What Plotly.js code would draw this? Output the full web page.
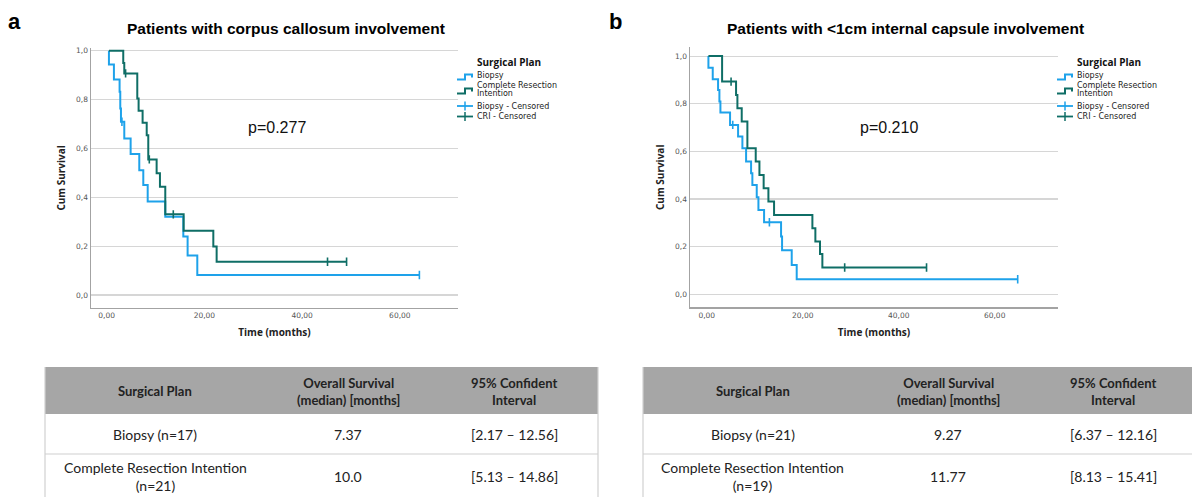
<!DOCTYPE html>
<html>
<head>
<meta charset="utf-8">
<script src="https://cdn.plot.ly/plotly-3.0.1.min.js"></script>
<style>html,body{margin:0;padding:0;background:#fff;}#chart{width:1192px;height:497px;}</style>
</head>
<body>
<div id="chart"></div>
<script>
// ---------- data ----------
// Panel a: corpus callosum involvement
const aBiopsyTime = [0.47, 0.47, 1.49, 2.65, 2.79, 2.93, 3.61, 4.91, 6.68, 7.5, 8.4, 12.0, 15.69, 16.57, 18.55, 64.0];
const aBiopsySurv = [1.0, 0.943, 0.882, 0.832, 0.763, 0.709, 0.641, 0.577, 0.511, 0.45, 0.383, 0.320, 0.239, 0.162, 0.082, 0.082];
const aCriTime = [0.47, 3.40, 3.61, 6.27, 6.54, 7.36, 8.2, 8.52, 10.23, 10.91, 12.0, 15.76, 21.83, 22.51, 49.1];
const aCriSurv = [1.0, 0.950, 0.907, 0.804, 0.754, 0.705, 0.654, 0.555, 0.498, 0.443, 0.330, 0.263, 0.198, 0.136, 0.136];
const aBiopsyCensTime = [3.13, 64.0];
const aBiopsyCensSurv = [0.709, 0.082];
const aCriCensTime = [3.88, 8.73, 13.64, 45.2, 49.1];
const aCriCensSurv = [0.907, 0.555, 0.330, 0.136, 0.136];

// Panel b: <1cm internal capsule involvement
const bBiopsyTime = [0.34, 0.34, 1.24, 2.35, 2.63, 2.84, 4.85, 6.52, 7.42, 8.19, 9.23, 9.5, 10.41, 10.76, 11.94, 15.48, 15.69, 17.70, 18.74, 64.8];
const bBiopsySurv = [1.0, 0.951, 0.903, 0.858, 0.809, 0.763, 0.711, 0.662, 0.613, 0.557, 0.508, 0.459, 0.407, 0.354, 0.302, 0.242, 0.185, 0.123, 0.063, 0.063];
const bCriTime = [0.34, 3.19, 6.10, 6.38, 7.28, 8.46, 10.20, 10.97, 11.85, 12.84, 14.02, 22.01, 22.63, 23.60, 24.09, 45.8];
const bCriSurv = [1.0, 0.893, 0.837, 0.781, 0.725, 0.613, 0.557, 0.501, 0.445, 0.389, 0.333, 0.277, 0.221, 0.169, 0.112, 0.112];
const bBiopsyCensTime = [5.41, 13.05, 64.8];
const bBiopsyCensSurv = [0.711, 0.302, 0.063];
const bCriCensTime = [5.06, 28.74, 45.8];
const bCriCensSurv = [0.893, 0.112, 0.112];

const xTicks = [0, 20, 40, 60];
const yTicks = [0, 0.2, 0.4, 0.6, 0.8, 1.0];
const panelLetters = ['a', 'b'];
const panelTitles = ['Patients with corpus callosum involvement', 'Patients with &lt;1cm internal capsule involvement'];
const pValues = ['p=0.277', 'p=0.210'];
const legendTitle = 'Surgical Plan';
const legendLabels = ['Biopsy', 'Complete Resection', 'Intention', 'Biopsy - Censored', 'CRI - Censored'];

const tableHeader = ['Surgical Plan', 'Overall Survival<br>(median) [months]', '95% Confident<br>Interval'];
const aGroups = ['Biopsy (n=17)', 'Complete Resection Intention<br>(n=21)'];
const aMedian = ['7.37', '10.0'];
const aCI = ['[2.17 – 12.56]', '[5.13 – 14.86]'];
const bGroups = ['Biopsy (n=21)', 'Complete Resection Intention<br>(n=19)'];
const bMedian = ['9.27', '11.77'];
const bCI = ['[6.37 – 12.16]', '[8.13 – 15.41]'];

// ---------- styling ----------
const W = 1192, H = 497;
const X = v => v / W, Y = v => 1 - v / H;
const BLUE = '#1ea2ea', TEAL = '#0f6e66';
const AX = '#a3a3a3', GRID = '#d6d6d6';

function lineTrace(t, s, color, ax) {
  return {x: t, y: s, mode: 'lines', line: {shape: 'hv', color: color, width: 2},
          xaxis: ax[0], yaxis: ax[1], hoverinfo: 'skip', showlegend: false};
}
function censTrace(t, s, color, ax) {
  return {x: t, y: s, mode: 'markers', marker: {symbol: 'line-ns', size: 6, color: color, line: {color: color, width: 1.6}},
          xaxis: ax[0], yaxis: ax[1], hoverinfo: 'skip', showlegend: false};
}

const data = [
  lineTrace(aBiopsyTime, aBiopsySurv, BLUE, ['x', 'y']),
  lineTrace(aCriTime, aCriSurv, TEAL, ['x', 'y']),
  censTrace(aBiopsyCensTime, aBiopsyCensSurv, BLUE, ['x', 'y']),
  censTrace(aCriCensTime, aCriCensSurv, TEAL, ['x', 'y']),
  lineTrace(bBiopsyTime, bBiopsySurv, BLUE, ['x2', 'y2']),
  lineTrace(bCriTime, bCriSurv, TEAL, ['x2', 'y2']),
  censTrace(bBiopsyCensTime, bBiopsyCensSurv, BLUE, ['x2', 'y2']),
  censTrace(bCriCensTime, bCriCensSurv, TEAL, ['x2', 'y2'])
];

const tickFont = {family: 'DejaVu Sans', size: 7.5, color: '#555'};
const axTitleFont = {family: 'Open Sans', size: 10, color: '#222', weight: 'bold'};
function xAxis(d, r, anchor) {
  return {domain: d, range: r, tickvals: xTicks, tickformat: '.2f', showgrid: false, zeroline: false,
          showline: true, linecolor: AX, linewidth: 1.5, ticks: '', tickfont: tickFont, anchor: anchor,
          title: {text: 'Time (months)', font: axTitleFont, standoff: 10}, fixedrange: true};
}
function yAxis(d, r, anchor) {
  return {domain: d, range: r, tickvals: yTicks, tickformat: '.1f', showgrid: true, gridcolor: GRID, gridwidth: 1.2,
          zeroline: false, showline: true, linecolor: AX, linewidth: 1.5, ticks: '', tickfont: tickFont, anchor: anchor,
          title: {text: 'Cum Survival', font: axTitleFont, standoff: 8}, fixedrange: true};
}

const annotations = [];
const shapes = [];
const panels = [{xl: 15, xt: 286, xp: 277, leg: 457}, {xl: 615, xt: 905, xp: 889, leg: 1057}];
panels.forEach((p, i) => {
  annotations.push({xref: 'paper', yref: 'paper', x: X(p.xl), y: Y(22), text: '<b>' + panelLetters[i] + '</b>',
    showarrow: false, xanchor: 'center', yanchor: 'middle', font: {family: 'Liberation Sans', size: 22, color: '#000'}});
  annotations.push({xref: 'paper', yref: 'paper', x: X(p.xt), y: Y(28.5), text: '<b>' + panelTitles[i] + '</b>',
    showarrow: false, xanchor: 'center', yanchor: 'middle', font: {family: 'Liberation Sans', size: 15.5, color: '#000'}});
  annotations.push({xref: 'paper', yref: 'paper', x: X(p.xp), y: Y(127.5), text: pValues[i],
    showarrow: false, xanchor: 'center', yanchor: 'middle', font: {family: 'Liberation Sans', size: 16, color: '#111'}});
  // legend
  const lx = p.leg, tx = lx + 18;
  annotations.push({xref: 'paper', yref: 'paper', x: X(tx), y: Y(62), text: '<b>' + legendTitle + '</b>',
    showarrow: false, xanchor: 'left', yanchor: 'middle', font: {family: 'Open Sans', size: 10, color: '#111'}});
  const ys = [75.5, 85.5, 93, 106, 116.5];
  legendLabels.forEach((lab, k) => {
    annotations.push({xref: 'paper', yref: 'paper', x: X(tx), y: Y(ys[k]), text: lab,
      showarrow: false, xanchor: 'left', yanchor: 'middle', font: {family: 'DejaVu Sans', size: 8, color: '#222'}});
  });
  const step = (yc, col) => ({type: 'path', xref: 'paper', yref: 'paper', line: {color: col, width: 2},
    path: `M${X(lx)},${Y(yc + 3)} L${X(lx + 8)},${Y(yc + 3)} L${X(lx + 8)},${Y(yc - 2)} L${X(lx + 15)},${Y(yc - 2)} L${X(lx + 15)},${Y(yc + 1)}`});
  shapes.push(step(76.5, BLUE), step(90.5, TEAL));
  [[106, BLUE], [116.5, TEAL]].forEach(([yc, col]) => {
    shapes.push({type: 'line', xref: 'paper', yref: 'paper', x0: X(lx), x1: X(lx + 16), y0: Y(yc), y1: Y(yc), line: {color: col, width: 1.8}});
    shapes.push({type: 'line', xref: 'paper', yref: 'paper', x0: X(lx + 8), x1: X(lx + 8), y0: Y(yc - 4.5), y1: Y(yc + 4.5), line: {color: col, width: 1.5}});
  });
});

// ---------- tables (built from the table arrays) ----------
const tables = [
  {x0: 45, x1: 598, cols: [155, 348, 514], rows: [aGroups, aMedian, aCI]},
  {x0: 643, x1: 1195, cols: [752.5, 948, 1113], rows: [bGroups, bMedian, bCI]}
];
const rowCenters = [434, 476];
tables.forEach(t => {
  const c = {color: '#d0d0d0', width: 1.2};
  shapes.push({type: 'rect', xref: 'paper', yref: 'paper', x0: X(t.x0), x1: X(t.x1), y0: Y(367), y1: Y(414),
               fillcolor: '#a6a6a6', line: {width: 0}, layer: 'below'});
  shapes.push({type: 'line', xref: 'paper', yref: 'paper', x0: X(t.x0), x1: X(t.x0), y0: Y(367), y1: 0, line: c});
  shapes.push({type: 'line', xref: 'paper', yref: 'paper', x0: X(t.x1), x1: X(t.x1), y0: Y(367), y1: 0, line: c});
  shapes.push({type: 'line', xref: 'paper', yref: 'paper', x0: X(t.x0), x1: X(t.x1), y0: Y(454), y1: Y(454), line: c});
  tableHeader.forEach((h, j) => {
    annotations.push({xref: 'paper', yref: 'paper', x: X(t.cols[j]), y: Y(391), text: '<b>' + h + '</b>', align: 'center',
      showarrow: false, xanchor: 'center', yanchor: 'middle', font: {family: 'Lato', size: 13, color: '#222'}});
  });
  t.rows.forEach((col, j) => {
    col.forEach((v, r) => {
      annotations.push({xref: 'paper', yref: 'paper', x: X(t.cols[j]), y: Y(rowCenters[r]), text: v, align: 'center',
        showarrow: false, xanchor: 'center', yanchor: 'middle', font: {family: 'Lato', size: 14, color: '#222'}});
    });
  });
});

const layout = {
  width: W, height: H, margin: {l: 0, r: 0, t: 0, b: 0}, paper_bgcolor: '#fff', plot_bgcolor: '#fff',
  separators: ',.', showlegend: false, font: {family: 'Liberation Sans'},
  xaxis: xAxis([X(91), X(458)], [-3.2, 71.9], 'y'),
  yaxis: yAxis([Y(307.7), Y(48)], [-0.052, 1.011], 'x'),
  xaxis2: xAxis([X(690), X(1058)], [-3.5, 73.2], 'y2'),
  yaxis2: yAxis([Y(307.3), Y(47.3)], [-0.055, 1.037], 'x2'),
  annotations: annotations, shapes: shapes
};
Plotly.newPlot('chart', data, layout, {staticPlot: true, displayModeBar: false});
</script>
</body>
</html>
